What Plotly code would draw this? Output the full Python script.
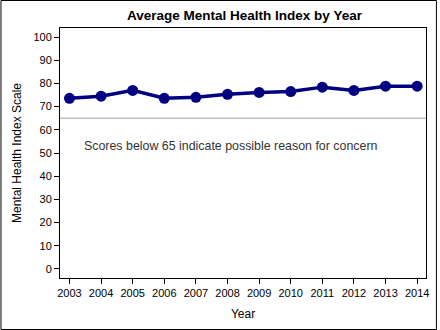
import plotly.graph_objects as go

years = list(range(2003, 2015))
index_values = [73.6, 74.5, 77.0, 73.6, 74.0, 75.3, 76.1, 76.5, 78.4, 77.0, 78.8, 78.8]
y_ticks = [0, 10, 20, 30, 40, 50, 60, 70, 80, 90, 100]
concern_level = 65
note_text = "Scores below 65 indicate possible reason for concern"

W, H = 440, 330
ml, mr, mt, mb = 60, 11, 28, 52
pw, ph = W - ml - mr, H - mt - mb

font = "Liberation Sans, Arial, sans-serif"

fig = go.Figure()
fig.add_trace(go.Scatter(
    x=years, y=index_values, mode="lines+markers",
    line=dict(color="#000080", width=3.5),
    marker=dict(color="#000080", size=11),
    showlegend=False, hoverinfo="x+y"))

fig.add_hline(y=concern_level, line=dict(color="#a0a0a0", width=1))
fig.add_annotation(x=2008.1, y=53.1, text=note_text, showarrow=False,
                   font=dict(family=font, size=12.4, color="#333333"))

# outer border
fig.add_shape(type="rect", xref="paper", yref="paper",
              x0=(0.5 - ml) / pw, x1=(W - 0.5 - ml) / pw,
              y0=-(mb - 0.5) / ph, y1=1 + (mt - 0.5) / ph,
              line=dict(color="black", width=1), fillcolor="rgba(0,0,0,0)")

fig.update_layout(
    width=W, height=H,
    margin=dict(l=ml, r=mr, t=mt, b=mb),
    paper_bgcolor="white", plot_bgcolor="white",
    font=dict(family=font, size=11, color="black"),
    title=dict(text="<b>Average Mental Health Index by Year</b>", x=(ml + pw / 2) / W,
               xanchor="center", y=1 - 15 / H, yanchor="middle",
               font=dict(family=font, size=13.5, color="black")),
    xaxis=dict(range=[2002.7, 2014.28], tickvals=years, ticktext=[str(y) for y in years],
               showline=True, linecolor="black", linewidth=1, mirror=True,
               ticks="outside", ticklen=5, tickcolor="black", showgrid=False, zeroline=False,
               title=dict(text="Year", font=dict(family=font, size=12), standoff=11)),
    yaxis=dict(range=[-3.9, 103.9], tickvals=y_ticks,
               showline=True, linecolor="black", linewidth=1, mirror=True,
               ticks="outside", ticklen=5, tickcolor="black", showgrid=False, zeroline=False,
               title=dict(text="Mental Health Index Scale", font=dict(family=font, size=12), standoff=9)),
)

fig.write_html("out.html")
